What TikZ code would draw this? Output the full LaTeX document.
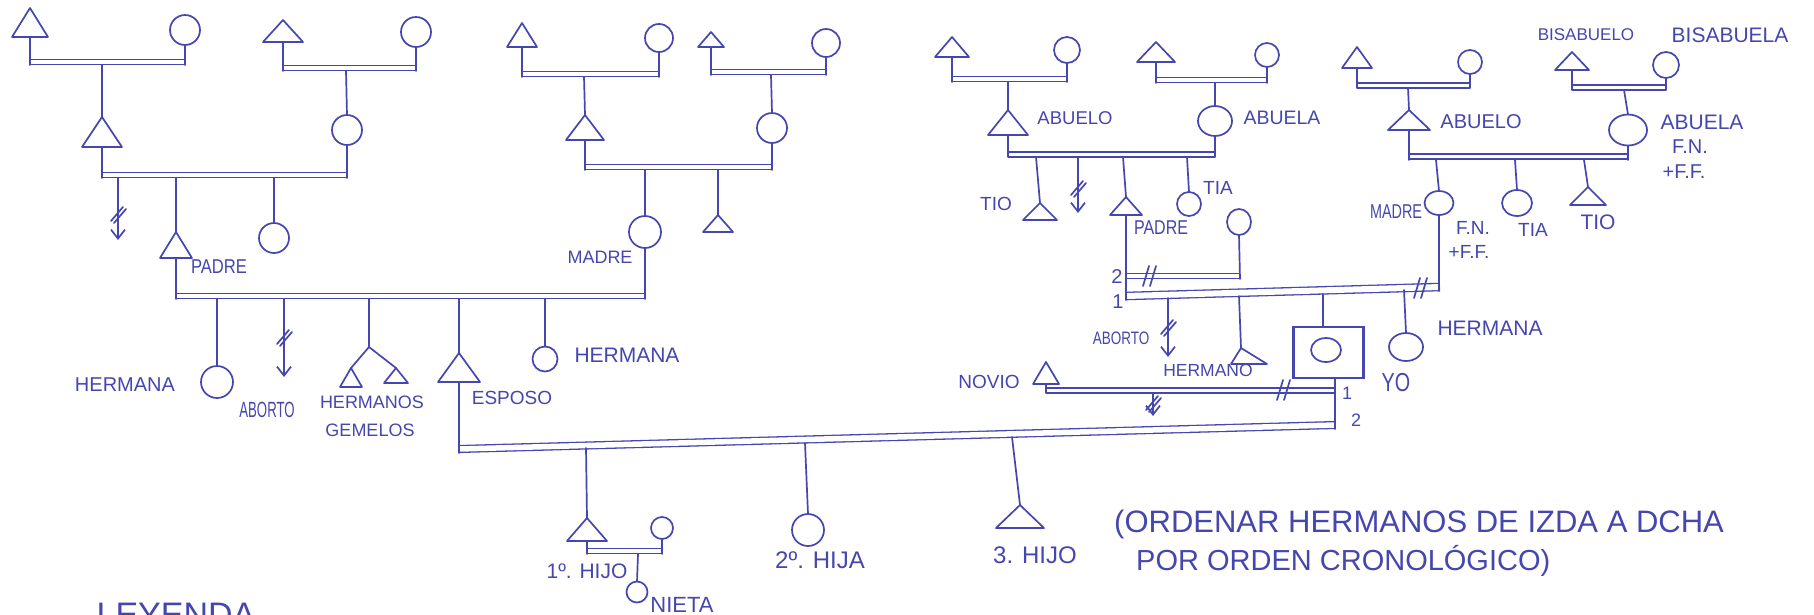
\documentclass[tikz,border=0pt]{standalone}
\usepackage{fontspec}
\usepackage{graphicx}
\setmainfont{Liberation Sans}
\usetikzlibrary{shapes.geometric,arrows.meta}
\definecolor{inkc}{RGB}{70,70,175}
\newcommand\fsz[1]{\fontsize{#1}{#1}\selectfont}
\newcommand\cnd[2]{\scalebox{#1}[1]{#2}}
% male: name, cx, apex y, base y, half width
\newcommand\ptri[5]{\coordinate (#1) at (#2,#3);\coordinate (#1b) at (#2,#4);
  \draw[ink] (#1) -- (#2-#5,#4) -- (#2+#5,#4) -- cycle;}
% female: name, cx, cy, width, height
\newcommand\pcirc[5]{\node[pers,minimum width=#4pt,minimum height=#5pt] (#1) at (#2,#3) {};}
% abortion arrow: x, y1, y2, y of slash
\newcommand\abortar[4]{\draw[ab] (#1,#2) -- (#1,#3);
  \draw[ink] (#1-7,#4+7) -- (#1+5,#4-7);
  \draw[ink] (#1-4,#4+9) -- (#1+8,#4-5);}
% divorce mark
\newcommand\dmark[2]{\draw[ink] (#1-6,#2+10) -- (#1,#2-10);
  \draw[ink] (#1+1,#2+10) -- (#1+7,#2-10);}
\begin{document}
\begin{tikzpicture}[x=1pt,y=-1pt,
  ink/.style={draw=inkc,line width=1.7pt,line cap=round,line join=round},
  pers/.style={ellipse,draw=inkc,line width=1.7pt,inner sep=0pt,outer sep=0pt},
  dbl/.style={draw=inkc,double=white,double distance=3.5pt,line width=1.3pt},
  lbl/.style={text=inkc,inner sep=0pt},
  ab/.style={ink,-{Straight Barb[length=9pt,width=14pt]}}]
\useasboundingbox (0,0) rectangle (1814,614);
\fill[white] (0,0) rectangle (1814,614);
\clip (0,0) rectangle (1814,614);

% ================= LEFT HALF =================
% great-grandparents 1
\ptri{A1}{30}{8}{37}{18}
\pcirc{B1}{185}{30}{30}{30}
\draw[dbl] (30,62) -- (185,62);
\draw[ink] (A1b) -- (30,65); \draw[ink] (B1.south) -- (185,65);
% great-grandparents 2
\ptri{A3}{283}{20}{42}{20}
\pcirc{B3}{416}{32}{30}{30}
\draw[dbl] (283,68) -- (416,68);
\draw[ink] (A3b) -- (283,71); \draw[ink] (B3.south) -- (416,71);
% grandparents (padre side)
\ptri{A2}{102}{117}{147}{20}
\draw[ink] (102,65) -- (A2);
\pcirc{B4}{347}{130}{30}{30}
\draw[ink] (346,71) -- (B4.north);
\draw[dbl] (102,175) -- (347,175);
\draw[ink] (A2b) -- (102,178); \draw[ink] (B4.south) -- (347,178);
\abortar{118}{178}{240}{214}
\ptri{A5}{176}{232}{258}{16}
\draw[ink] (176,178) -- (A5);
\pcirc{C5}{274}{238}{30}{30}
\draw[ink] (274,178) -- (C5.north);
\node[lbl,font=\fsz{20}] (tpadre1) at (219,267) {\cnd{0.83}{PADRE}};

% great-grandparents 3
\ptri{A6}{522}{23}{47}{15}
\pcirc{B6}{659}{38}{28}{28}
\draw[dbl] (522,74) -- (659,74);
\draw[ink] (A6b) -- (522,77); \draw[ink] (B6.south) -- (659,77);
% great-grandparents 4
\ptri{A8}{711}{32}{47}{13}
\pcirc{B8}{826}{43}{28}{28}
\draw[dbl] (711,72) -- (826,72);
\draw[ink] (A8b) -- (711,75); \draw[ink] (B8.south) -- (826,75);
% grandparents (madre side)
\ptri{A7}{585}{115}{140}{19}
\draw[ink] (584,77) -- (A7);
\pcirc{B9}{772}{128}{30}{30}
\draw[ink] (771,75) -- (B9.north);
\draw[dbl] (585,167) -- (772,167);
\draw[ink] (A7b) -- (585,170); \draw[ink] (B9.south) -- (772,170);
\pcirc{B10}{645}{232}{32}{32}
\draw[ink] (645,170) -- (B10.north);
\ptri{A11}{718}{215}{232}{15}
\draw[ink] (718,170) -- (A11);
\node[lbl,font=\fsz{18}] (tmadre1) at (600,257) {MADRE};

% parents of esposo
\draw[dbl] (176,296) -- (645,296);
\draw[ink] (A5b) -- (176,299); \draw[ink] (B10.south) -- (645,299);
\pcirc{C12}{217}{382}{32}{32}
\draw[ink] (217,299) -- (C12.north);
\node[lbl,font=\fsz{20}] (therm1) at (125,385) {HERMANA};
\abortar{284}{299}{377}{337}
\node[lbl,font=\fsz{22}] (tabort1) at (267,410) {\cnd{0.6}{ABORTO}};
\coordinate (tw) at (369,347);
\draw[ink] (369,299) -- (tw);
\ptri{A13}{351}{368}{387}{11}
\ptri{A14}{396}{368}{383}{12}
\draw[ink] (tw) -- (A13); \draw[ink] (tw) -- (A14);
\node[lbl,font=\fsz{18}] (therms) at (372,402) {HERMANOS};
\node[lbl,font=\fsz{18}] (tgem) at (370,430) {GEMELOS};
\ptri{AE}{459}{353}{382}{21}
\draw[ink] (459,299) -- (AE);
\node[lbl,font=\fsz{19}] (tesp) at (512,398) {ESPOSO};
\pcirc{C14}{545}{359}{25}{25}
\draw[ink] (545,299) -- (C14.north);
\node[lbl,font=\fsz{21}] (therm2) at (627,355) {HERMANA};

% ================= RIGHT HALF =================
% padre's grandparents
\ptri{A19}{952}{37}{57}{17}
\pcirc{B19}{1067}{50}{26}{26}
\draw[dbl] (952,79) -- (1067,79);
\draw[ink] (A19b) -- (952,82); \draw[ink] (B19.south) -- (1067,82);
\ptri{A20}{1008}{110}{135}{20}
\draw[ink] (1008,82) -- (A20);
\node[lbl,font=\fsz{18.5}] (tab1) at (1075,118) {ABUELO};
\ptri{A21}{1156}{42}{62}{19}
\pcirc{B21}{1267}{55}{24}{24}
\draw[dbl] (1156,80) -- (1267,80);
\draw[ink] (A21b) -- (1156,83); \draw[ink] (B21.south) -- (1267,83);
\pcirc{B22}{1215}{121}{34}{30}
\draw[ink] (1215,83) -- (B22.north);
\node[lbl,font=\fsz{19.5}] (tab2) at (1282,118) {ABUELA};
\draw[dbl] (1008,154.5) -- (1215,154.5);
\draw[ink] (A20b) -- (1008,157); \draw[ink] (B22.south) -- (1215,157);
\ptri{A23}{1040}{203}{220}{17}
\draw[ink] (1036,157) -- (A23);
\node[lbl,font=\fsz{19}] (ttio1) at (996,204) {TIO};
\abortar{1078}{157}{213}{188}
\ptri{A24}{1126}{197}{215}{16}
\draw[ink] (1123,157) -- (A24);
\node[lbl,font=\fsz{20}] (tpadre2) at (1161,228) {\cnd{0.8}{PADRE}};
\pcirc{C25}{1189}{204}{24}{24}
\draw[ink] (1187,157) -- (C25.north);
\node[lbl,font=\fsz{19}] (ttia1) at (1218,188) {TIA};

% padre's second partner
\pcirc{C26}{1239}{222}{24}{26}
\draw[dbl] (1126,276) -- (1240,276);
\draw[ink] (C26.south) -- (1240,279);
\dmark{1149}{276}
% madre's parents
\ptri{A27}{1357}{47}{68}{15}
\pcirc{B27}{1470}{62}{24}{24}
\draw[dbl] (1357,85.5) -- (1470,85.5);
\draw[ink] (A27b) -- (1357,88); \draw[ink] (B27.south) -- (1470,88);
\ptri{A28}{1409}{110}{130}{21}
\draw[ink] (1408,88) -- (A28);
\node[lbl,font=\fsz{20}] (tab3) at (1481,122) {ABUELO};
\node[lbl,font=\fsz{17}] (tbis1) at (1586,35) {BISABUELO};
\node[lbl,font=\fsz{21}] (tbis2) at (1730,35) {BISABUELA};
\ptri{A29}{1572}{52}{70}{17}
\pcirc{B29}{1666}{65}{26}{26}
\draw[dbl] (1572,87.5) -- (1666,87.5);
\draw[ink] (A29b) -- (1572,90); \draw[ink] (B29.south) -- (1666,90);
\pcirc{B30}{1628}{130}{38}{31}
\draw[ink] (1624,90) -- (B30.north);
\node[lbl,font=\fsz{21}] (tab4) at (1702,122) {ABUELA};
\node[lbl,font=\fsz{20}] (tfn1) at (1690,147) {F.N.};
\node[lbl,font=\fsz{20}] (tff1) at (1684,172) {+F.F.};
\draw[dbl] (1409,156.5) -- (1628,156.5);
\draw[ink] (A28b) -- (1409,160); \draw[ink] (B30.south) -- (1628,160);
\pcirc{C31}{1439}{203}{29}{24}
\draw[ink] (1436,160) -- (C31.north);
\node[lbl,font=\fsz{20}] (tmadre2) at (1396,212) {\cnd{0.72}{MADRE}};
\node[lbl,font=\fsz{19}] (tfn2) at (1473,228) {F.N.};
\node[lbl,font=\fsz{19}] (tff2) at (1469,252) {+F.F.};
\pcirc{C32}{1517}{203}{30}{26}
\draw[ink] (1515,160) -- (C32.north);
\node[lbl,font=\fsz{19}] (ttia2) at (1533,230) {TIA};
\ptri{A33}{1588}{187}{205}{18}
\draw[ink] (1584,160) -- (A33);
\node[lbl,font=\fsz{21}] (ttio2) at (1598,222) {TIO};

% parents of YO
\draw[dbl,double distance=6pt] (1126,296) -- (1440,287);
\draw[ink] (A24b) -- (1126,300);
\draw[ink] (C31.south) -- (1439,291);
\dmark{1420}{288}
\node[lbl,font=\fsz{20}] (tn2) at (1117,277) {2};
\node[lbl,font=\fsz{20}] (tn1) at (1118,302) {1};
% children
\abortar{1168}{298}{357}{327}
\node[lbl,font=\fsz{18}] (tabort2) at (1121,338) {\cnd{0.75}{ABORTO}};
\coordinate (A34) at (1241,348);
\draw[ink] (A34) -- (1231,364) -- (1267,364) -- cycle;
\draw[ink] (1239,296) -- (A34);
\node[lbl,font=\fsz{17.5}] (therm3) at (1208,370) {HERMANO};
\node[draw=inkc,line width=2.8pt,minimum width=70pt,minimum height=51pt,inner sep=0pt] (YO) at (1328.5,352.5) {};
\pcirc{YOc}{1326}{350}{30}{24}
\draw[ink] (1323,294) -- (1323,327);
\node[lbl,font=\fsz{26}] (tyo) at (1396,383) {\cnd{0.76}{YO}};
\pcirc{C36}{1406}{347}{34}{28}
\draw[ink] (1404,290) -- (C36.north);
\node[lbl,font=\fsz{21}] (therm4) at (1490,328) {HERMANA};

% novio
\ptri{A35}{1046}{362}{384}{13}
\draw[dbl] (1046,390.5) -- (1335,390.5);
\draw[ink] (A35b) -- (1046,393);
\dmark{1283}{390}
\node[lbl,font=\fsz{19}] (tnovio) at (989,382) {NOVIO};
\abortar{1153}{393}{416}{403}

% esposo & yo
\draw[dbl,double distance=5.5pt] (459,449) -- (1335,425);
\draw[ink] (AEb) -- (459,453);
\draw[ink] (1335,378) -- (1335,429);
\node[lbl,font=\fsz{18}] (tm1) at (1347,393) {1};
\node[lbl,font=\fsz{18}] (tm2) at (1356,420) {2};

% children of esposo & yo
\ptri{A15}{587}{518}{541}{20}
\draw[ink] (586,448) -- (A15);
\pcirc{B15}{662}{528}{22}{22}
\draw[dbl] (587,551) -- (662,551);
\draw[ink] (A15b) -- (587,554); \draw[ink] (B15.south) -- (662,554);
\pcirc{C16}{637}{592}{21}{21}
\draw[ink] (638,554) -- (C16.north);
\node[lbl,font=\fsz{21}] (thijo1) at (587,571) {1º. HIJO};
\node[lbl,font=\fsz{22}] (tnieta) at (682,605) {NIETA};
\pcirc{C17}{808}{530}{32}{32}
\draw[ink] (805,443) -- (C17.north);
\node[lbl,font=\fsz{24}] (thija2) at (820,560) {2º. HIJA};
\ptri{A18}{1020}{505}{528}{24}
\draw[ink] (1012,437) -- (A18);
\node[lbl,font=\fsz{24}] (thijo3) at (1035,555) {3. HIJO};

% note
\node[lbl,font=\fsz{31},anchor=base west] (tnote1) at (1114,532) {(ORDENAR HERMANOS DE IZDA A DCHA};
\node[lbl,font=\fsz{29},anchor=base west] (tnote2) at (1136,570) {POR ORDEN CRONOLÓGICO)};
\node[lbl,font=\fsz{34},anchor=north] (tley) at (176,603) {LEYENDA};
\end{tikzpicture}
\end{document}
